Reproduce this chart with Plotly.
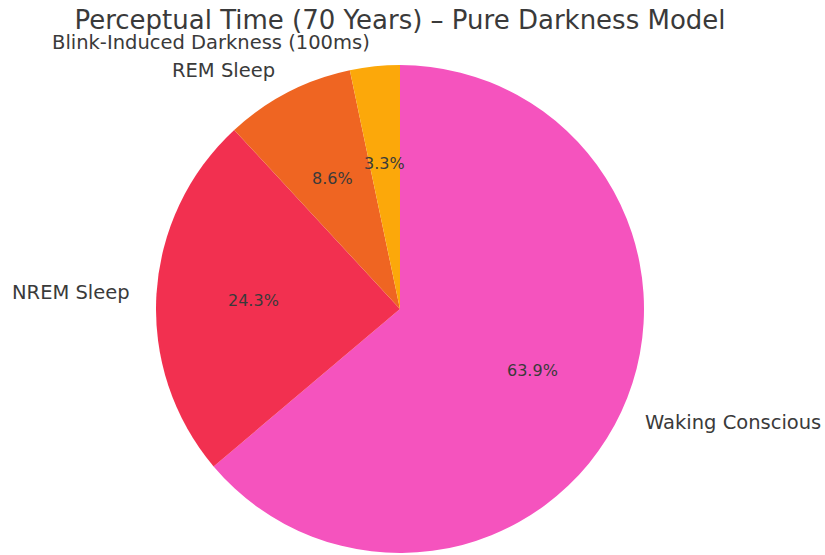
import math
import plotly.graph_objects as go

# Share of perceptual time over a 70-year life, in percent
categories = ["Waking Conscious", "NREM Sleep", "REM Sleep", "Blink-Induced Darkness (100ms)"]
shares = [63.9, 24.3, 8.6, 3.3]
colors = ["#F553BE", "#F23050", "#EF6522", "#FCA80A"]

W, H = 825, 555
cx, cy, r = 400, 309, 244  # pie centre and radius in pixels

fig = go.Figure()
fig.add_trace(go.Pie(
    labels=categories,
    values=shares,
    sort=False,
    direction="clockwise",
    rotation=0,
    marker=dict(colors=colors, line=dict(width=0)),
    textinfo="none",
    hoverinfo="label+value",
    showlegend=False,
    domain=dict(x=[(cx - r) / W, (cx + r) / W], y=[(H - cy - r) / H, (H - cy + r) / H]),
))

# Category labels outside the wedges and percentages inside, at the wedge mid-angles
total = sum(shares)
acc = 0.0
annotations = []
for name, v in zip(categories, shares):
    mid = (acc + v / 2) / total * 360.0
    acc += v
    theta = math.radians(90 - mid)
    dx, dy = math.cos(theta), math.sin(theta)
    lx, ly = cx + 1.1 * r * dx, cy - 1.1 * r * dy
    annotations.append(dict(
        x=lx / W, y=1 - ly / H, xref="paper", yref="paper",
        text=name, showarrow=False,
        xanchor="left" if dx > 0 else "right", yanchor="middle",
        font=dict(family="DejaVu Sans", size=19.5, color="#3a3a3a"),
    ))
    px, py = cx + 0.6 * r * dx, cy - 0.6 * r * dy
    annotations.append(dict(
        x=px / W, y=1 - py / H, xref="paper", yref="paper",
        text=f"{v:.1f}%", showarrow=False,
        xanchor="center", yanchor="middle",
        font=dict(family="DejaVu Sans", size=16, color="#3a3a3a"),
    ))

fig.update_layout(
    width=W, height=H,
    margin=dict(l=0, r=0, t=0, b=0),
    paper_bgcolor="white",
    plot_bgcolor="white",
    title=dict(
        text="Perceptual Time (70 Years) – Pure Darkness Model",
        x=400 / W, xanchor="center", y=1 - 20 / H, yanchor="middle",
        font=dict(family="DejaVu Sans", size=26, color="#3a3a3a"),
    ),
    annotations=annotations,
)

fig.write_html("out.html")
